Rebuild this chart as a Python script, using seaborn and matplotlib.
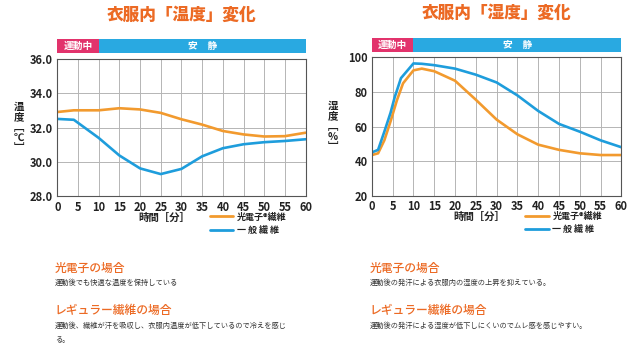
import pandas as pd
import matplotlib.pyplot as plt
import matplotlib.patches as mpatches
import seaborn as sns

# 1. データ
temp_minutes = [0, 4, 10, 15, 20, 25, 30, 35, 40, 45, 50, 55, 60]
temp_kodenshi = [32.9, 33.0, 33.0, 33.12, 33.05, 32.85, 32.48, 32.17, 31.8, 31.6, 31.48, 31.5, 31.7]
temp_ippan = [32.5, 32.45, 31.4, 30.38, 29.63, 29.3, 29.6, 30.33, 30.8, 31.03, 31.15, 31.22, 31.32]

hum_minutes_k = [0, 1.5, 3, 4.5, 6, 7.5, 10, 12, 15, 20, 25, 30, 35, 40, 45, 50, 55, 60]
hum_kodenshi = [43.5, 44.5, 52, 63, 75, 85, 92.5, 93.5, 92, 86.5, 75.5, 64, 55.5, 49.5, 46.5, 44.5, 43.5, 43.5]
hum_minutes_i = [0, 1.5, 3, 4.5, 5.5, 7, 10, 12, 15, 20, 25, 30, 35, 40, 45, 50, 55, 60]
hum_ippan = [45, 46.5, 57, 68, 77, 88, 96.5, 96.3, 95.5, 93.5, 90, 85.5, 78, 69, 61.5, 57, 52, 48]

series_names = ['光電子®繊維', '一 般 繊 維']
series_colors = ['#f29a2e', '#1e9ddc']

panel_titles = ['衣服内「温度」変化', '衣服内「湿度」変化']
notes = [
    ['光電子の場合', '運動後でも快適な温度を保持している',
     'レギュラー繊維の場合', '運動後、繊維が汗を吸収し、衣服内温度が低下しているので冷えを感じ', 'る。'],
    ['光電子の場合', '運動後の発汗による衣服内の湿度の上昇を抑えている。',
     'レギュラー繊維の場合', '運動後の発汗による湿度が低下しにくいのでムレ感を感じやすい。', ''],
]

df_temp = pd.concat([
    pd.DataFrame({'分': temp_minutes, '値': temp_kodenshi, '種類': series_names[0]}),
    pd.DataFrame({'分': temp_minutes, '値': temp_ippan, '種類': series_names[1]}),
])
df_hum = pd.concat([
    pd.DataFrame({'分': hum_minutes_k, '値': hum_kodenshi, '種類': series_names[0]}),
    pd.DataFrame({'分': hum_minutes_i, '値': hum_ippan, '種類': series_names[1]}),
])

# 2. スタイル
sns.set_style('white')
plt.rcParams['font.family'] = ['Noto Sans CJK JP', 'DejaVu Sans']
ORANGE_T = '#ec6a24'

fig = plt.figure(figsize=(6.4, 3.5), dpi=100)
ax1 = fig.add_axes([0.0895, 0.4386, 0.388, 0.394])
ax2 = fig.add_axes([0.581, 0.441, 0.390, 0.395])


def draw_panel(ax, df, ylim, yticks, ylabel, title, leg_x):
    sns.lineplot(data=df, x='分', y='値', hue='種類', palette=series_colors,
                 hue_order=series_names, estimator=None, linewidth=1.9, ax=ax)
    ax.set_xlim(0, 60)
    ax.set_ylim(*ylim)
    ax.set_xticks(range(0, 61, 5))
    ax.set_yticks(yticks)
    ax.grid(True, color='#b5b5b5', linewidth=0.7)
    for s in ax.spines.values():
        s.set_color('#555555')
        s.set_linewidth(0.8)
    ax.tick_params(length=0, labelsize=8, pad=3)
    for lab in ax.get_xticklabels() + ax.get_yticklabels():
        lab.set_fontweight('bold')
        lab.set_color('#222222')
    ax.set_xlabel('時間［分］', fontsize=7.5, fontweight='bold', color='#222222')
    ax.xaxis.set_label_coords(0.43, -0.12)
    ax.set_ylabel('')
    ax.text(-0.155, 0.5, ylabel, transform=ax.transAxes, ha='center', va='center',
            fontsize=7.5, fontweight='bold', color='#222222', linespacing=1.05)

    # 運動中 / 安静 帯
    tr = ax.get_xaxis_transform()
    ax.add_patch(mpatches.Rectangle((0, 1.042), 10, 0.1, transform=tr,
                                    color='#e2336c', clip_on=False, lw=0))
    ax.add_patch(mpatches.Rectangle((10, 1.042), 50, 0.1, transform=tr,
                                    color='#29a9e1', clip_on=False, lw=0))
    ax.text(5, 1.092, '運動中', transform=tr, ha='center', va='center',
            color='white', fontsize=7, fontweight='bold')
    ax.text(35, 1.092, '安　静', transform=tr, ha='center', va='center',
            color='white', fontsize=7, fontweight='bold')

    ax.text(0.5, 1.32, title, transform=ax.transAxes, ha='center', va='center',
            color=ORANGE_T, fontsize=12, fontweight='heavy')

    leg = ax.legend(loc='upper left', bbox_to_anchor=(leg_x, -0.09), frameon=False,
                    fontsize=6.5, handlelength=2.6, handletextpad=0.4,
                    labelspacing=0.5, borderaxespad=0)
    for t in leg.get_texts():
        t.set_fontweight('bold')
        t.set_color('#222222')
    for h in leg.get_lines():
        h.set_linewidth(2)


draw_panel(ax1, df_temp, (28, 36), [28, 30, 32, 34, 36], '温\n度\n﹇\n℃\n﹈',
           panel_titles[0], 0.6)
ax1.set_yticklabels([f'{v:.1f}' for v in [28, 30, 32, 34, 36]])
draw_panel(ax2, df_hum, (20, 100), [20, 40, 60, 80, 100], '湿\n度\n﹇\n%\n﹈',
           panel_titles[1], 0.6)

# 3. 説明文
for x0, (h1, b1, h2, b2, b3) in zip([55 / 640, 370 / 640], notes):
    fig.text(x0, 1 - 268 / 350, h1, color=ORANGE_T, fontsize=8.5, va='center', fontweight='medium')
    fig.text(x0, 1 - 283 / 350, b1, color='#333333', fontsize=5.2, va='center')
    fig.text(x0, 1 - 310 / 350, h2, color=ORANGE_T, fontsize=8.5, va='center', fontweight='medium')
    fig.text(x0, 1 - 326 / 350, b2, color='#333333', fontsize=5.2, va='center')
    if b3:
        fig.text(x0, 1 - 340 / 350, b3, color='#333333', fontsize=5.2, va='center')

plt.savefig('out.png', dpi=100)
